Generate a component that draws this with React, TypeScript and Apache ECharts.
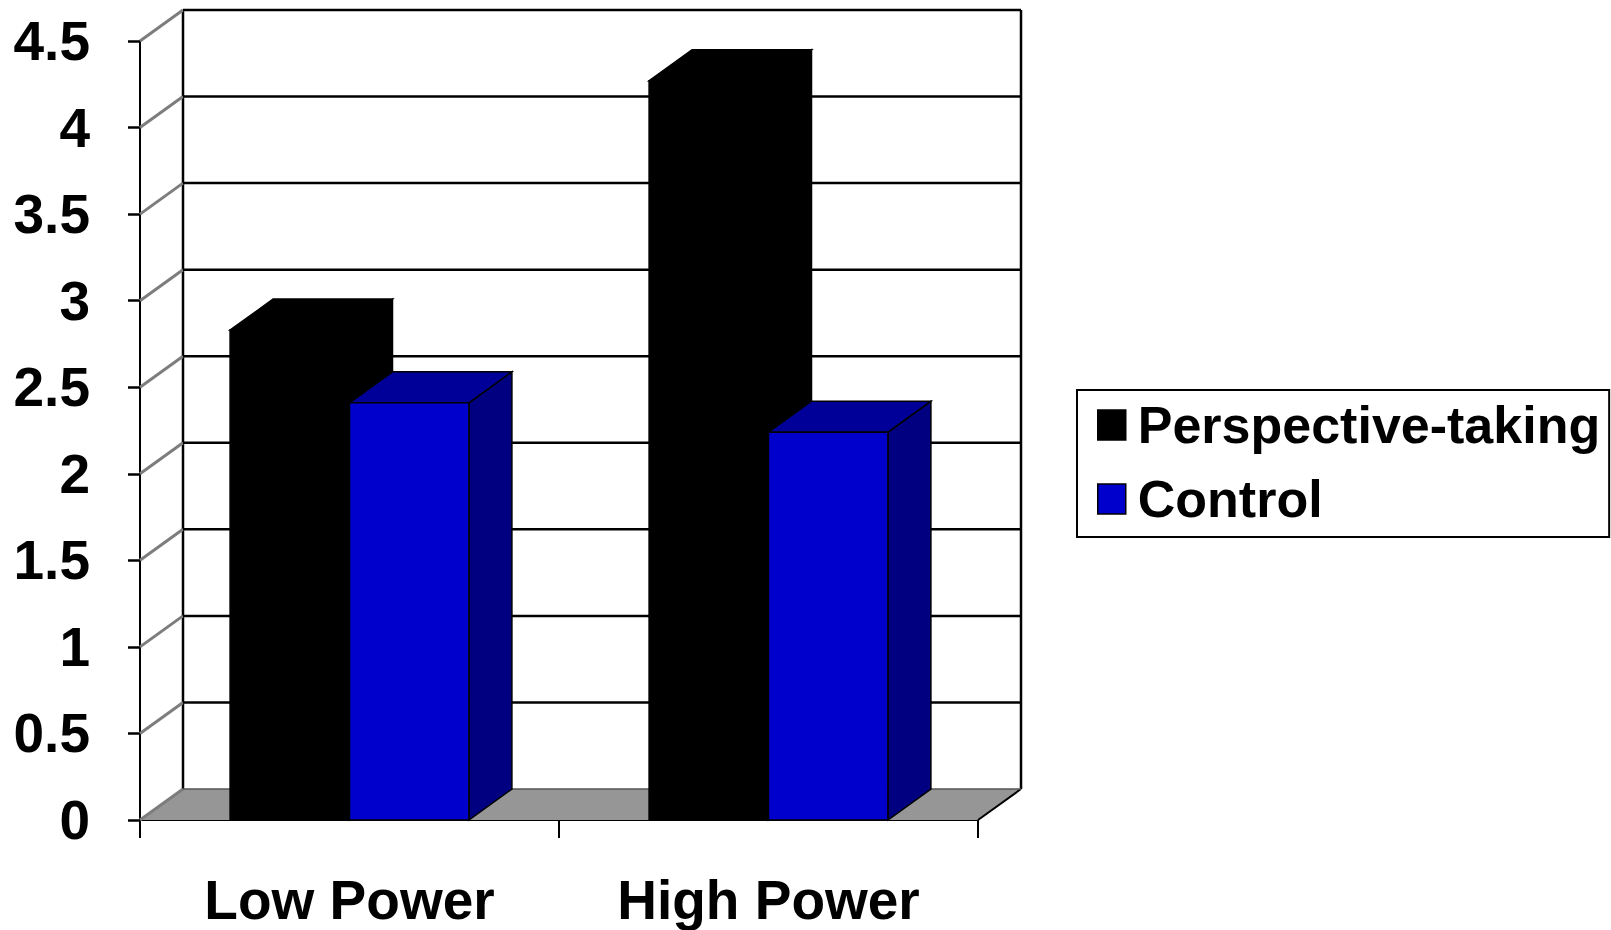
import { useEffect, useRef } from 'react';
import * as echarts from 'echarts';

// Chart data
const categories = ['Low Power', 'High Power'];
const seriesNames = ['Perspective-taking', 'Control'];
const perspectiveTaking = [2.83, 4.27];
const control = [2.41, 2.24];
const valueTicks = [0, 0.5, 1, 1.5, 2, 2.5, 3, 3.5, 4, 4.5];

// Oblique depth of the 3D box (pixels) and bar width as a share of the category band
const DEPTH_X = 43;
const DEPTH_Y = -31;
const BAR_SHARE = 0.285;
const FONT = '"Liberation Sans", Arial, Helvetica, sans-serif';

// Back wall grid lines, left wall diagonals and the grey floor
function renderWall(params: any, api: any) {
  const cs = params.coordSys;
  const v = api.value(1);
  const y = api.coord([0, v])[1];
  const left = cs.x;
  const right = cs.x + cs.width;
  const children: any[] = [];
  if (v === 0) {
    children.push({
      type: 'polygon',
      shape: {
        points: [
          [left, y],
          [right, y],
          [right + DEPTH_X, y + DEPTH_Y],
          [left + DEPTH_X, y + DEPTH_Y],
        ],
      },
      style: { fill: '#969696', stroke: 'none' },
    });
    children.push({
      type: 'line',
      shape: { x1: right, y1: y, x2: right + DEPTH_X, y2: y + DEPTH_Y },
      style: { stroke: '#000', lineWidth: 2 },
    });
    const yTop = cs.y;
    children.push({
      type: 'line',
      shape: { x1: left + DEPTH_X, y1: y + DEPTH_Y, x2: left + DEPTH_X, y2: yTop + DEPTH_Y },
      style: { stroke: '#000', lineWidth: 2.5 },
    });
    children.push({
      type: 'line',
      shape: { x1: right + DEPTH_X, y1: y + DEPTH_Y, x2: right + DEPTH_X, y2: yTop + DEPTH_Y },
      style: { stroke: '#000', lineWidth: 2.5 },
    });
  }
  children.push({
    type: 'line',
    shape: { x1: left, y1: y, x2: left + DEPTH_X, y2: y + DEPTH_Y },
    style: { stroke: '#7d7d7d', lineWidth: 3 },
  });
  children.push({
    type: 'line',
    shape: { x1: left + DEPTH_X, y1: y + DEPTH_Y, x2: right + DEPTH_X, y2: y + DEPTH_Y },
    style: { stroke: v === 0 ? '#555' : '#000', lineWidth: v === 0 ? 1.5 : 2.5 },
  });
  return { type: 'group', children };
}

type Faces = { front: string; top: string; side: string; stroke: string };

// 3D box bar: side, top, then front face
function barRenderer(placeLeft: boolean, faces: Faces) {
  return (_params: any, api: any) => {
    const cat = api.value(0);
    const val = api.value(1);
    const [cx, yTop] = api.coord([cat, val]);
    const yBase = api.coord([cat, 0])[1];
    const w = api.size([1, 0])[0] * BAR_SHARE;
    const x0 = placeLeft ? cx - w : cx;
    const x1 = x0 + w;
    const style = (fill: string) => ({ fill, stroke: faces.stroke, lineWidth: 1.5, lineJoin: 'miter' });
    return {
      type: 'group',
      children: [
        {
          type: 'polygon',
          shape: {
            points: [
              [x1, yTop],
              [x1 + DEPTH_X, yTop + DEPTH_Y],
              [x1 + DEPTH_X, yBase + DEPTH_Y],
              [x1, yBase],
            ],
          },
          style: style(faces.side),
        },
        {
          type: 'polygon',
          shape: {
            points: [
              [x0, yTop],
              [x1, yTop],
              [x1 + DEPTH_X, yTop + DEPTH_Y],
              [x0 + DEPTH_X, yTop + DEPTH_Y],
            ],
          },
          style: style(faces.top),
        },
        {
          type: 'rect',
          shape: { x: x0, y: yTop, width: w, height: yBase - yTop },
          style: style(faces.front),
        },
      ],
    };
  };
}

export default function App() {
  const ref = useRef<HTMLDivElement>(null);

  useEffect(() => {
    if (!ref.current) return;
    const chart = echarts.init(ref.current, undefined, { renderer: 'svg' });
    const black: Faces = { front: '#000000', top: '#000000', side: '#000000', stroke: '#000000' };
    const blue: Faces = { front: '#0000cc', top: '#000099', side: '#000080', stroke: '#000000' };

    chart.setOption({
      animation: false,
      backgroundColor: '#ffffff',
      grid: { left: 140, top: 41, width: 838, height: 779 },
      legend: {
        orient: 'vertical',
        left: 1077,
        top: 390,
        data: seriesNames.map((name) => ({ name, icon: 'rect' })),
        itemWidth: 28,
        itemHeight: 30,
        itemGap: 18,
        padding: [7, 9, 10, 20],
        borderColor: '#000',
        borderWidth: 2,
        selectedMode: false,
        itemStyle: { borderColor: '#000', borderWidth: 1.5 },
        textStyle: {
          fontFamily: FONT,
          fontWeight: 'bold',
          fontSize: 52,
          lineHeight: 56,
          color: '#000',
          padding: [0, 0, 0, 7],
        },
      },
      xAxis: {
        type: 'category',
        data: categories,
        boundaryGap: true,
        axisLine: { show: true, lineStyle: { color: '#000', width: 2 } },
        axisTick: { show: true, length: 18, lineStyle: { color: '#000', width: 2 } },
        axisLabel: {
          margin: 52,
          fontFamily: FONT,
          fontWeight: 'bold',
          fontSize: 55,
          color: '#000',
        },
        splitLine: { show: false },
      },
      yAxis: {
        type: 'value',
        min: 0,
        max: 4.5,
        interval: 0.5,
        axisLine: { show: true, lineStyle: { color: '#000', width: 2 } },
        axisTick: { show: true, length: 12, lineStyle: { color: '#000', width: 2.5 } },
        axisLabel: {
          margin: 50,
          fontFamily: FONT,
          fontWeight: 'bold',
          fontSize: 55,
          color: '#000',
        },
        splitLine: { show: false },
      },
      series: [
        {
          type: 'custom',
          name: 'walls',
          clip: false,
          silent: true,
          renderItem: renderWall,
          encode: { x: 0, y: 1 },
          data: valueTicks.map((v) => [0, v]),
          z: 1,
        },
        {
          type: 'custom',
          name: seriesNames[0],
          clip: false,
          itemStyle: { color: black.front },
          renderItem: barRenderer(true, black),
          encode: { x: 0, y: 1 },
          data: perspectiveTaking.map((v, i) => [i, v]),
          z: 2,
        },
        {
          type: 'custom',
          name: seriesNames[1],
          clip: false,
          itemStyle: { color: blue.front },
          renderItem: barRenderer(false, blue),
          encode: { x: 0, y: 1 },
          data: control.map((v, i) => [i, v]),
          z: 3,
        },
      ],
    });

    return () => chart.dispose();
  }, []);

  return (
    <div
      ref={ref}
      style={{ position: 'fixed', left: 0, top: 0, width: 1611, height: 930, background: '#fff' }}
    />
  );
}
